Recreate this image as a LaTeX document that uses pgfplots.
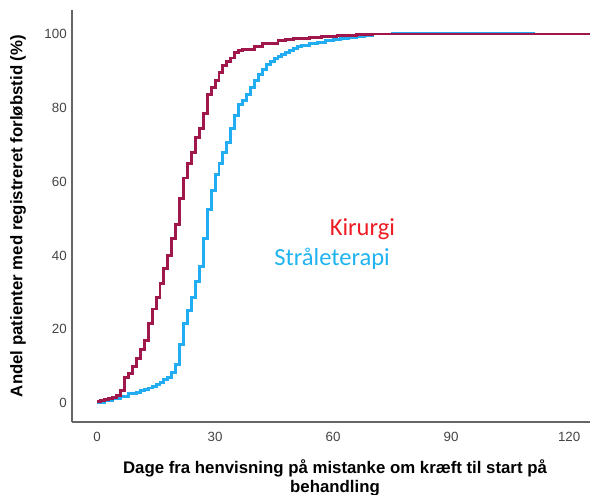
\documentclass[border=0pt]{standalone}
\usepackage{pgfplots}
\pgfplotsset{compat=1.18}
\usepackage{fontspec}
\setmainfont{Liberation Sans}
\newfontfamily\calib{Carlito}
\definecolor{kir}{HTML}{A0174C}
\definecolor{str}{HTML}{22ACF2}
\definecolor{kirtxt}{HTML}{EE1C25}
\definecolor{strtxt}{HTML}{1FB4F0}
\definecolor{axgray}{HTML}{666666}
\definecolor{tickgray}{HTML}{444444}
\begin{document}
\begin{tikzpicture}
\begin{axis}[
  at={(0,0)}, anchor=south west,
  scale only axis,
  width=388.5pt, height=309pt,
  xmin=-6.36, xmax=125.3,
  ymin=-5.1, ymax=106.5,
  axis x line=bottom, axis y line=left,
  axis line style={-, axgray, line width=1.1pt},
  xtick={0,30,60,90,120},
  ytick={0,20,40,60,80,100},
  major tick length=0pt,
  /pgf/number format/assume math mode=true,
  tick label style={font=\fontsize{10}{12}\selectfont, text=tickgray},
  xticklabel style={anchor=north, inner sep=0pt, yshift=-7.5pt},
  yticklabel style={anchor=east, inner sep=0pt, xshift=-3.75pt},
  xlabel={Dage fra henvisning på mistanke om kræft til start på\\behandling},
  xlabel style={at={(axis description cs:0.5,0)}, anchor=north, inner sep=0pt, yshift=-28pt, xshift=3pt, align=center, font=\bfseries\fontsize{12.6}{14.3}\selectfont},
  ylabel={Andel patienter med registreret forløbstid (\%)},
  ylabel style={at={(axis description cs:0,0.5)}, anchor=center, inner sep=0pt, yshift=40.5pt, font=\bfseries\fontsize{12.6}{14.3}\selectfont},
  clip=true,
]
% Straaleterapi
\addplot[const plot, color=str, line width=2.2pt] coordinates {
(0,0.3) (2,0.8) (4,1.2) (6,1.8) (8,2.5) (10,3.0) (11,3.5) (12,3.8) (13,4.1) (14,4.4)
(15,5.0) (16,5.5) (17,6.3) (18,7.0) (19,8.2) (20,10.5) (21,16.0) (22,21.5) (23,25.0)
(24,28.5) (25,33.0) (26,37.0) (27,44.5) (28,52.5) (29,57.5) (30,62.0) (31,65.0)
(32,68.0) (33,70.5) (34,74.5) (35,78.0) (36,81.0) (37,82.0) (38,83.5) (39,85.5)
(40,87.5) (41,89.0) (42,90.5) (43,91.8) (44,92.5) (45,93.3) (46,94.0) (47,94.5)
(48,95.0) (49,95.5) (50,96.0) (51,96.5) (52,96.8) (54,97.3) (56,97.8) (58,98.2)
(60,98.5) (62,98.8) (64,99.1) (66,99.4) (68,99.7) (70,100) (75,100.2) (111.4,100.2)
};
% Kirurgi
\addplot[const plot, color=kir, line width=2.2pt] coordinates {
(0,0.5) (1,0.7) (2,0.9) (3,1.2) (4,1.5) (5,2.0) (6,3.5) (7,7.0) (8,8.0) (9,10.0)
(10,12.0) (11,14.5) (12,17.0) (13,21.5) (14,25.5) (15,28.5) (16,32.5) (17,36.5)
(18,40.0) (19,44.5) (20,48.5) (21,55.5) (22,61.0) (23,65.0) (24,68.0) (25,72.0)
(26,74.5) (27,78.5) (28,83.5) (29,85.5) (30,87.5) (31,89.5) (32,91.5) (33,92.5)
(34,93.5) (35,95.0) (36,95.5) (37,95.7) (39,95.8) (40,96.5) (42,97.3) (44,97.5)
(46,98.2) (48,98.6) (50,98.9) (54,99.1) (57,99.3) (61,99.5) (66,99.8) (70,100)
(125.3,100)
};
\node[anchor=base east, inner sep=0pt, text=kirtxt, font=\calib\fontsize{18.4}{20}\selectfont] at (axis cs:75.8,45.3) {Kirurgi};
\node[anchor=base east, inner sep=0pt, text=strtxt, font=\calib\fontsize{18.4}{20}\selectfont] at (axis cs:74.5,37.4) {Stråleterapi};
\end{axis}
\pgfresetboundingbox
\useasboundingbox (-54pt,-54.75pt) rectangle (388.5pt,316.5pt);
\end{tikzpicture}
\end{document}
